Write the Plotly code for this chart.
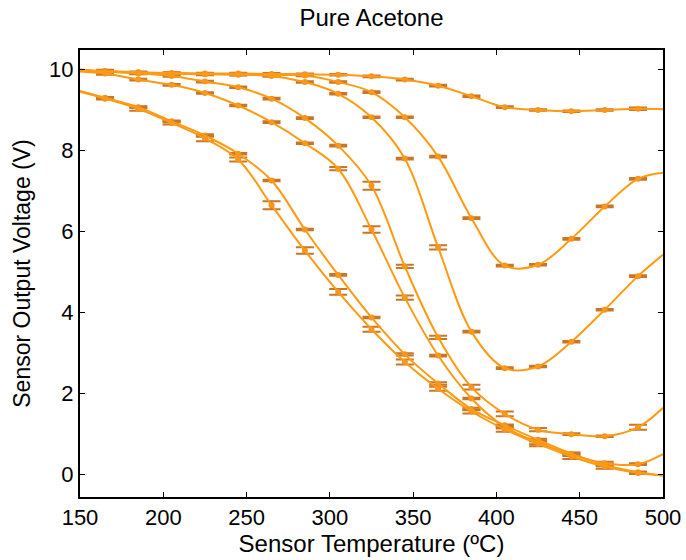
import plotly.graph_objects as go

# Measurement temperatures (ºC)
temps = [165, 185, 205, 225, 245, 265, 285, 305, 325, 345, 365, 385, 405, 425, 445, 465, 485]
# fitted-curve end points (ºC)
fit_start_T = 150
fit_end_T = 500

# Mean sensor output voltage (V) for each curve
curve_A = [9.96, 9.93, 9.91, 9.90, 9.90, 9.89, 9.88, 9.87, 9.83, 9.75, 9.60, 9.34, 9.07, 9.00, 8.97, 9.00, 9.03]
curve_B = [9.95, 9.92, 9.90, 9.89, 9.88, 9.86, 9.85, 9.69, 9.44, 8.82, 7.85, 6.33, 5.16, 5.18, 5.82, 6.62, 7.30]
curve_C = [9.95, 9.92, 9.90, 9.88, 9.87, 9.84, 9.69, 9.40, 8.82, 7.80, 5.61, 3.53, 2.63, 2.67, 3.28, 4.07, 4.90]
curve_D = [9.95, 9.90, 9.84, 9.70, 9.56, 9.28, 8.80, 8.12, 7.13, 5.14, 3.39, 2.16, 1.50, 1.11, 1.00, 0.95, 1.17]
curve_E = [9.90, 9.75, 9.62, 9.42, 9.11, 8.70, 8.18, 7.55, 6.05, 4.37, 2.94, 1.88, 1.18, 0.80, 0.50, 0.28, 0.26]
curve_F = [9.30, 9.07, 8.72, 8.37, 7.92, 7.26, 6.05, 4.93, 3.88, 2.97, 2.25, 1.62, 1.22, 0.86, 0.52, 0.24, 0.06]
curve_G = [9.28, 9.03, 8.68, 8.30, 7.78, 6.65, 5.53, 4.51, 3.59, 2.78, 2.12, 1.56, 1.12, 0.76, 0.45, 0.20, 0.04]

# Error (half range, V)
err_A = [0.03, 0.02, 0.02, 0.02, 0.02, 0.02, 0.02, 0.02, 0.02, 0.02, 0.02, 0.02, 0.02, 0.02, 0.02, 0.02, 0.03]
err_B = [0.03, 0.02, 0.02, 0.02, 0.02, 0.02, 0.02, 0.02, 0.02, 0.02, 0.02, 0.02, 0.02, 0.02, 0.02, 0.02, 0.02]
err_C = [0.03, 0.02, 0.02, 0.02, 0.02, 0.02, 0.02, 0.02, 0.02, 0.02, 0.05, 0.02, 0.02, 0.02, 0.02, 0.02, 0.02]
err_D = [0.03, 0.02, 0.02, 0.02, 0.02, 0.02, 0.02, 0.02, 0.10, 0.04, 0.04, 0.06, 0.06, 0.04, 0.02, 0.02, 0.06]
err_E = [0.03, 0.02, 0.02, 0.02, 0.02, 0.02, 0.02, 0.04, 0.08, 0.05, 0.02, 0.02, 0.04, 0.05, 0.04, 0.04, 0.02]
err_F = [0.02, 0.02, 0.02, 0.03, 0.02, 0.02, 0.02, 0.02, 0.02, 0.03, 0.03, 0.03, 0.02, 0.03, 0.03, 0.03, 0.02]
err_G = [0.02, 0.05, 0.04, 0.07, 0.05, 0.10, 0.08, 0.07, 0.06, 0.06, 0.05, 0.05, 0.06, 0.06, 0.06, 0.05, 0.02]

# Fitted-curve values at the axis ends (V)
fit_start = {"A": 10.0, "B": 9.98, "C": 9.97, "D": 9.97, "E": 9.95, "F": 9.47, "G": 9.45}
fit_end = {"A": 9.02, "B": 7.45, "C": 5.43, "D": 1.65, "E": 0.51, "F": -0.02, "G": -0.02}

curves = {"A": (curve_A, err_A), "B": (curve_B, err_B), "C": (curve_C, err_C),
          "D": (curve_D, err_D), "E": (curve_E, err_E), "F": (curve_F, err_F),
          "G": (curve_G, err_G)}

LINE = "#FF9A12"
CAP = "rgb(200,118,40)"
MARK = "#F39324"

fig = go.Figure()
# error bars + markers first
for name, (vals, errs) in curves.items():
    fig.add_trace(go.Scatter(
        x=temps, y=vals, mode="markers",
        marker=dict(size=6, color=MARK),
        error_y=dict(type="data", array=errs, visible=True, color=CAP,
                     thickness=2, width=9),
        showlegend=False, hoverinfo="skip"))
# smooth fitted lines on top
for name, (vals, errs) in curves.items():
    fig.add_trace(go.Scatter(
        x=[fit_start_T] + temps + [fit_end_T],
        y=[fit_start[name]] + vals + [fit_end[name]],
        mode="lines", line=dict(color=LINE, width=2, shape="spline", smoothing=1.0),
        showlegend=False))

font_family = "Liberation Sans, Arial, sans-serif"
fig.update_layout(
    width=686, height=560,
    margin=dict(l=80, r=23, t=50, b=63),
    paper_bgcolor="white", plot_bgcolor="white",
    font=dict(family=font_family, color="black", size=22),
    title=dict(text="Pure Acetone", x=0.5, xref="paper", y=1 - 18 / 560,
               yref="container", yanchor="middle", font=dict(size=24)),
    showlegend=False,
)
fig.update_xaxes(
    range=[150, 500], tickvals=[150, 200, 250, 300, 350, 400, 450, 500],
    ticks="inside", ticklen=5, tickwidth=1, tickcolor="black",
    showline=True, linecolor="black", linewidth=2, mirror="ticks",
    showgrid=False, zeroline=False, automargin=False,
    title=dict(text="Sensor Temperature (ºC)", font=dict(size=24), standoff=5),
    tickfont=dict(size=22))
fig.update_yaxes(
    range=[-0.55, 10.48], tickvals=[0, 2, 4, 6, 8, 10],
    ticks="inside", ticklen=5, tickwidth=1, tickcolor="black",
    showline=True, linecolor="black", linewidth=2, mirror="ticks",
    showgrid=False, zeroline=False, automargin=False,
    title=dict(text="Sensor Output Voltage (V)", font=dict(size=23), standoff=12),
    tickfont=dict(size=22))

fig.write_html("out.html")
